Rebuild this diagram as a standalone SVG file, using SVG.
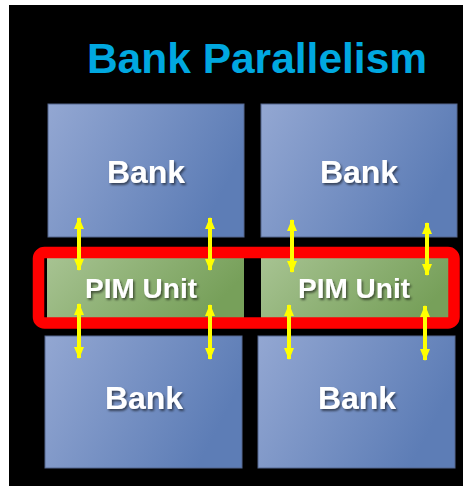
<svg xmlns="http://www.w3.org/2000/svg" width="470" height="486" viewBox="0 0 470 486">
<defs>
<linearGradient id="gBank" x1="0" y1="0" x2="1" y2="0.35">
<stop offset="0" stop-color="#93a7d2"/>
<stop offset="1" stop-color="#5d7db6"/>
</linearGradient>
<linearGradient id="gPim" x1="0" y1="0" x2="1" y2="0.3">
<stop offset="0" stop-color="#a7c392"/>
<stop offset="1" stop-color="#77a05a"/>
</linearGradient>
<filter id="sh" x="-20%" y="-20%" width="140%" height="160%">
<feDropShadow dx="1.5" dy="2" stdDeviation="1.2" flood-color="#000" flood-opacity="0.55"/>
</filter>
<marker id="ah" viewBox="0 0 12 10" refX="11" refY="5" markerWidth="12" markerHeight="11" markerUnits="userSpaceOnUse" orient="auto-start-reverse">
<path d="M0,0 L12,5 L0,10 Z" fill="#ffff00"/>
</marker>
</defs>
<style>
.bank{fill:url(#gBank);stroke:#55678e;stroke-width:1}
.pim{fill:url(#gPim)}
.lbl{font-family:"Liberation Sans",Arial,sans-serif;font-weight:bold;fill:#ffffff;text-anchor:middle;filter:url(#sh)}
.arr{stroke:#ffff00;stroke-width:4;fill:none;marker-start:url(#ah);marker-end:url(#ah)}
</style>
<rect x="0" y="0" width="470" height="486" fill="#ffffff"/>
<rect x="9" y="5" width="454" height="481" fill="#000000"/>
<text x="257" y="73" font-family="Liberation Sans, Arial, sans-serif" font-weight="bold" font-size="42.5" fill="#00a8e0" text-anchor="middle">Bank Parallelism</text>
<g id="bank-tl"><rect class="bank" x="48" y="104" width="196" height="133"/><text class="lbl" x="146" y="183" font-size="32">Bank</text></g>
<g id="bank-tr"><rect class="bank" x="261" y="104" width="196" height="133"/><text class="lbl" x="359" y="183" font-size="32">Bank</text></g>
<g id="pim-l"><rect class="pim" x="47" y="258" width="197" height="60"/><text class="lbl" x="141" y="298" font-size="28">PIM Unit</text></g>
<g id="pim-r"><rect class="pim" x="261" y="258" width="196" height="60"/><text class="lbl" x="354" y="298" font-size="28">PIM Unit</text></g>
<g id="bank-bl"><rect class="bank" x="45" y="336" width="197" height="132"/><text class="lbl" x="144" y="409" font-size="32">Bank</text></g>
<g id="bank-br"><rect class="bank" x="258" y="336" width="197" height="132"/><text class="lbl" x="357" y="409" font-size="32">Bank</text></g>
<g id="highlight"><rect x="38.5" y="252.5" width="415.5" height="70.5" rx="6" fill="none" stroke="#ff0000" stroke-width="11.5"/></g>
<g id="connectors">
<line class="arr" x1="79" y1="218" x2="79" y2="270"/>
<line class="arr" x1="210" y1="218" x2="210" y2="270"/>
<line class="arr" x1="292" y1="220" x2="292" y2="272"/>
<line class="arr" x1="427" y1="223" x2="427" y2="275"/>
<line class="arr" x1="79" y1="304" x2="79" y2="358"/>
<line class="arr" x1="210" y1="305" x2="210" y2="359"/>
<line class="arr" x1="289" y1="305" x2="289" y2="359"/>
<line class="arr" x1="425" y1="306" x2="425" y2="360"/>
</g>
</svg>
